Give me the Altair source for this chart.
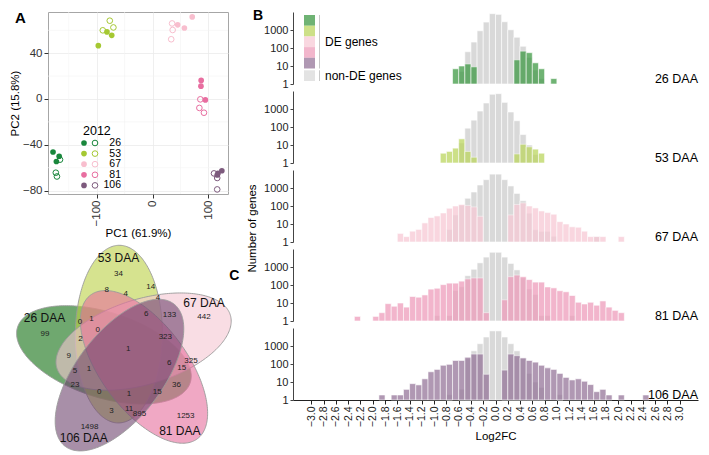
import altair as alt
import numpy as np
import pandas as pd

FONT = "Liberation Sans"

# ---------------- Panel A : PCA ----------------
stages = ["26", "53", "67", "81", "106"]
pca_colors = ["#19873c", "#a5c832", "#f8bece", "#e86ea0", "#7d5a7d"]
pc1_2012 = [[-178, -167, -172], [-97, -81.5, -73], [45, 57, 71], [87, 86.6, 94.5], [117, 124, 115.7]]
pc2_2012 = [[-46.3, -50, -54.6], [46.6, 58.6, 55.6], [64.8, 62, 71.7], [16.2, 11.2, -0.8], [-65, -62.7, -66.4]]
pc1_2013 = [[-165.5, -173, -171], [-76.5, -89, -70], [35, 36, 33.4], [85.5, 83.8, 92], [110, 115.7, 115.7]]
pc2_2013 = [[-53, -64.4, -67.7], [68.4, 60, 62.5], [66, 60.3, 52.2], [-0.3, -7.8, -12], [-65, -69, -79]]
minor_x = [-150, -50, 50]
minor_y = [-60, -20, 20, 60]
legend_title_A = "2012"

# ---------------- Panel B : Log2FC histograms ----------------
panel_names = ["26 DAA", "53 DAA", "67 DAA", "81 DAA", "106 DAA"]
cats = ["26", "53", "67", "81", "106", "non-DE"]
cat_colors = ["#3f9a45", "#bcd660", "#f7c9d5", "#ee9dbb", "#96769a", "#d9d9d9"]
legend_labels_B = ["DE genes", "non-DE genes"]
x_ticks = [-3.0, -2.8, -2.6, -2.4, -2.2, -2.0, -1.8, -1.6, -1.4, -1.2, -1.0, -0.8, -0.6, -0.4, -0.2,
           0.0, 0.2, 0.4, 0.6, 0.8, 1.0, 1.2, 1.4, 1.6, 1.8, 2.0, 2.2, 2.4, 2.6, 2.8, 3.0]

nonde_bins = [
    [-0.6, -0.5, -0.4, -0.3, -0.2, -0.1, 0.0, 0.1, 0.2, 0.3, 0.4, 0.5, 0.6, 0.7],
    [-0.6, -0.5, -0.4, -0.3, -0.2, -0.1, 0.0, 0.1, 0.2, 0.3, 0.4, 0.5, 0.6],
    [-0.8, -0.7, -0.6, -0.5, -0.4, -0.3, -0.2, -0.1, 0.0, 0.1, 0.2, 0.3, 0.4, 0.5, 0.6, 0.7, 0.8, 0.9, 1.6],
    [-1.0, -0.8, -0.7, -0.6, -0.5, -0.4, -0.3, -0.2, -0.1, 0.0, 0.1, 0.2, 0.3, 0.4, 0.5, 0.6, 0.7, 0.8, 1.2],
    [-0.8, -0.6, -0.5, -0.4, -0.3, -0.2, -0.1, 0.0, 0.1, 0.2, 0.3, 0.4, 0.5, 0.6, 0.7, 1.0],
]
nonde_counts = [
    [5, 62, 214, 905, 2760, 8100, 7400, 2880, 1025, 396, 125, 30, 6, 2],
    [13, 86, 240, 770, 2150, 6600, 7100, 2340, 680, 223, 38, 10, 3],
    [5, 32, 110, 270, 600, 1470, 2900, 5900, 5900, 2900, 1300, 500, 196, 40, 4.8, 3.9, 3.9, 2.1, 2],
    [2, 2, 50, 80, 330, 750, 1700, 3550, 6600, 6600, 3550, 1580, 690, 250, 60, 30, 2, 2, 2],
    [2, 4, 200, 540, 1340, 3160, 6900, 6900, 3160, 1340, 540, 200, 30, 10, 5, 2],
]
de_bins = [
    [-0.7, -0.6, -0.5, -0.4, 0.3, 0.4, 0.5, 0.6, 0.7, 0.9],
    [-0.9, -0.8, -0.7, -0.6, -0.5, -0.4, 0.3, 0.4, 0.5, 0.6, 0.7],
    [-1.6, -1.5, -1.4, -1.3, -1.2, -1.1, -1.0, -0.9, -0.8, -0.7, -0.6, -0.5, -0.4, -0.3,
     0.2, 0.3, 0.4, 0.5, 0.6, 0.7, 0.8, 0.9, 1.0, 1.1, 1.2, 1.3, 1.4, 1.5, 1.6, 1.7, 2.0],
    [-2.3, -2.0, -1.9, -1.8, -1.7, -1.6, -1.5, -1.4, -1.3, -1.2, -1.1, -1.0, -0.9, -0.8, -0.7, -0.6,
     -0.5, -0.4, -0.3, -0.2, 0.1, 0.2, 0.3, 0.4, 0.5, 0.6, 0.7, 0.8, 0.9, 1.0, 1.1, 1.2, 1.3, 1.4,
     1.5, 1.6, 1.7, 1.8, 1.9, 2.0],
    [-1.9, -1.7, -1.6, -1.5, -1.4, -1.3, -1.2, -1.1, -1.0, -0.9, -0.8, -0.7, -0.6, -0.5, -0.4, -0.3,
     -0.2, 0.1, 0.2, 0.3, 0.4, 0.5, 0.6, 0.7, 0.8, 0.9, 1.0, 1.1, 1.2, 1.3, 1.4, 1.5, 1.6, 1.7, 1.8,
     2.0, 2.4],
]
de_counts = [
    [7, 10, 13, 9, 22, 67, 55, 15, 7, 2],
    [3.5, 4.4, 6.7, 22, 4.4, 2.1, 3.2, 11, 7.9, 5.9, 3.5],
    [3, 2, 4, 5, 11.5, 23, 28, 41, 75, 100, 122, 108, 89, 27,
     32, 122, 149, 100, 78, 53, 43, 35, 13.5, 10, 7, 6.6, 4, 2, 2, 2, 2],
    [1.8, 1.8, 2.9, 9.2, 6.6, 10, 5.9, 23, 21, 28, 59, 66, 105, 127, 127, 164,
     218, 247, 247, 2.9, 15, 290, 357, 290, 200, 145, 145, 78, 69, 48, 42, 26, 11, 8.8,
     11, 7.5, 13, 5.9, 3.9, 2.9],
    [1.9, 1.9, 1.9, 3.9, 8.1, 6.9, 15, 37, 50, 85, 96, 157, 157, 237, 357, 357,
     27, 46, 357, 290, 218, 157, 127, 85, 61, 50, 30, 18, 13, 15, 11, 7.2, 2.9, 3.9, 1.9,
     1.9, 1.9],
]

# ---------------- Panel C : five-set Venn ----------------
venn_sets = ["26 DAA", "53 DAA", "67 DAA", "81 DAA", "106 DAA"]
venn_colors = ["#0f6e0f", "#bbd044", "#f5c6d2", "#e66e9d", "#6e446e"]
venn_dir = [165.6, 93.6, 21.6, -50.4, -122.4]     # direction of each ellipse's far end (deg)
venn_name_x = [36.7, 113.3, 201.7, 176.7, 77.3]
venn_name_y = [313.3, 250.0, 297.3, 433.3, 440.7]
venn_count_text = ["34", "8", "14", "442", "4", "4", "0", "1", "0", "6", "133", "99", "2", "323", "1",
                   "9", "6", "325", "15", "5", "1", "23", "36", "0", "1", "15", "3", "11", "895",
                   "1253", "1498"]
venn_count_x = [113.3, 101, 146.7, 201.7, 120.7, 154, 73.3, 85.3, 91.7, 142, 166, 37.3, 74, 161.7,
                123.3, 61.7, 165.7, 188.3, 178.7, 68.3, 82.7, 68.3, 173.3, 93.3, 124, 153.3, 106,
                124.3, 135, 182.7, 83.3]
venn_count_y = [266.7, 284, 280.7, 312.7, 288.3, 292, 317.7, 314.3, 325.7, 309.3, 310, 330, 336, 333.3,
                346.7, 354, 360.7, 359.3, 366.7, 369, 367.7, 384, 384, 391.7, 394.3, 391.3, 411.3,
                410, 415.3, 416.7, 428.3]
venn_center = (121.0, 352.0)
venn_far = 116.0
venn_a = 94.0
venn_b = 45.0
venn_shift = 6.0
venn_tilt = -4.0


def one(**kw):
    return pd.DataFrame({k: [v] for k, v in kw.items()})


# =====================================================================
# Panel A chart
rows12, rows13 = [], []
for s, xs, ys in zip(stages, pc1_2012, pc2_2012):
    for x, y in zip(xs, ys):
        rows12.append({"pc1": x, "pc2": y, "stage": s})
for s, xs, ys in zip(stages, pc1_2013, pc2_2013):
    for x, y in zip(xs, ys):
        rows13.append({"pc1": x, "pc2": y, "stage": s})
df12 = pd.DataFrame(rows12)
df13 = pd.DataFrame(rows13)

axA = dict(grid=True, gridColor="#ebebeb", gridWidth=0.8, domain=False, tickColor="#333",
           tickSize=4, labelFontSize=11.5, labelColor="#333", titleFontSize=11.5,
           titleFontWeight="normal", titleColor="#000", labelPadding=2, titlePadding=2,
           labelFlush=False)
xA = alt.X("pc1:Q", scale=alt.Scale(domain=[-187, 135], nice=False, zero=False),
           axis=alt.Axis(values=[-100, 0, 100], labelAngle=270, title="PC1 (61.9%)", **axA))
yA = alt.Y("pc2:Q", scale=alt.Scale(domain=[-83, 76], nice=False, zero=False),
           axis=alt.Axis(values=[-80, -40, 0, 40], title="PC2 (15.8%)", **axA))
stage_scale = alt.Scale(domain=stages, range=pca_colors)

gx = alt.Chart(pd.DataFrame({"pc1": minor_x})).mark_rule(color="#f3f3f3", strokeWidth=0.6).encode(x=xA)
gy = alt.Chart(pd.DataFrame({"pc2": minor_y})).mark_rule(color="#f3f3f3", strokeWidth=0.6).encode(y=yA)
open_pts = alt.Chart(df13).mark_point(filled=False, size=32, strokeWidth=1, opacity=1).encode(
    x=xA, y=yA, color=alt.Color("stage:N", scale=stage_scale, legend=None))
fill_pts = alt.Chart(df12).mark_circle(size=32, opacity=1).encode(
    x=xA, y=yA, color=alt.Color("stage:N", scale=stage_scale, legend=None))
layersA = [gx, gy, open_pts, fill_pts]
# panel letter
layersA.append(alt.Chart(one(t="A")).mark_text(
    fontWeight="bold", fontSize=15, align="left", baseline="top", color="#000").encode(
    x=alt.value(-33), y=alt.value(-1), text="t:N"))
# legend drawn with marks (filled = 2012, open = other year)
layersA.append(alt.Chart(one(t=legend_title_A)).mark_text(
    fontSize=12.5, align="left", baseline="top", color="#000").encode(
    x=alt.value(35), y=alt.value(112.5), text="t:N"))
for i, (s, c) in enumerate(zip(stages, pca_colors)):
    yy = 131 + 10.6 * i
    d = one(t=s)
    layersA.append(alt.Chart(d).mark_circle(size=32, opacity=1, color=c).encode(
        x=alt.value(36), y=alt.value(yy)))
    layersA.append(alt.Chart(d).mark_point(size=32, filled=False, strokeWidth=1, opacity=1, color=c).encode(
        x=alt.value(47), y=alt.value(yy)))
    layersA.append(alt.Chart(d).mark_text(fontSize=10.5, align="right", baseline="middle", color="#000").encode(
        x=alt.value(73), y=alt.value(yy), text="t:N"))
chartA = alt.layer(*layersA).properties(width=180, height=182, view=alt.ViewBackground(stroke="#a6a6a6"))

# =====================================================================
# Panel C chart (ellipses)
rows = []
cx0, cy0 = venn_center
for name, ang in zip(venn_sets, venn_dir):
    th = np.radians(ang)
    u = np.array([np.cos(th), -np.sin(th)])
    v = np.array([np.cos(th + np.pi / 2), -np.sin(th + np.pi / 2)])
    c = np.array([cx0, cy0]) + (venn_far - venn_a) * u + venn_shift * v
    psi = -(th + np.radians(venn_tilt))  # rotation in screen coordinates
    a2, b2 = venn_a ** 2, venn_b ** 2
    A = np.sin(psi) ** 2 / a2 + np.cos(psi) ** 2 / b2
    xmax = np.sqrt(a2 * np.cos(psi) ** 2 + b2 * np.sin(psi) ** 2)
    for s in np.linspace(np.pi, 0, 121):
        dx = xmax * np.cos(s)
        B = 2 * dx * np.sin(psi) * np.cos(psi) * (1 / a2 - 1 / b2)
        Cq = dx ** 2 * (np.cos(psi) ** 2 / a2 + np.sin(psi) ** 2 / b2) - 1
        disc = max(B * B - 4 * A * Cq, 0.0)
        r1 = (-B - np.sqrt(disc)) / (2 * A)
        r2 = (-B + np.sqrt(disc)) / (2 * A)
        rows.append({"set": name, "x": c[0] + dx, "ya": c[1] + r1, "yb": c[1] + r2})
df_ell = pd.DataFrame(rows)

# the Venn panel shares its column's left edge with panel A's axis area
xC = alt.X("x:Q", scale=alt.Scale(domain=[0, 240], range=[-39, 193], nice=False, zero=False), axis=None)
yC = alt.Y("ya:Q", scale=alt.Scale(domain=[234, 452], nice=False, zero=False, reverse=True), axis=None)
ell = alt.Chart(df_ell).mark_area(fillOpacity=0.6, stroke="#9a9a9a", strokeWidth=1,
                                  strokeOpacity=0.9, interpolate="linear").encode(
    x=xC, y=yC, y2="yb:Q",
    color=alt.Color("set:N", scale=alt.Scale(domain=venn_sets, range=venn_colors), legend=None),
    detail="set:N")
df_names = pd.DataFrame({"x": venn_name_x, "ya": venn_name_y, "t": venn_sets})
df_counts = pd.DataFrame({"x": venn_count_x, "ya": venn_count_y, "t": venn_count_text})
names = alt.Chart(df_names).mark_text(fontSize=12, color="#111").encode(x=xC, y=yC, text="t:N")
counts = alt.Chart(df_counts).mark_text(fontSize=8, color="#222").encode(x=xC, y=yC, text="t:N")
letterC = alt.Chart(one(x=233, ya=269, t="C")).mark_text(
    fontSize=14, fontWeight="bold", color="#000").encode(x=xC, y=yC, text="t:N")
chartC = alt.layer(ell, names, counts, letterC).properties(width=193, height=206)

# =====================================================================
# Panel B charts
xsB = alt.Scale(domain=[-3.3, 3.3], nice=False, zero=False)
ysB = alt.Scale(type="log", domain=[1, 10000], nice=False)
cscale = alt.Scale(domain=cats, range=cat_colors)
xaxisB = alt.Axis(values=x_ticks, format=".1f", labelAngle=270, title="Log2FC", labelFontSize=10.5,
                  labelColor="#222", tickSize=4, tickColor="#222", domainColor="#222", grid=False,
                  labelPadding=2, labelFlush=False, labelOverlap=False, labelBound=False,
                  titleFontSize=11.5, titleFontWeight="normal", titleColor="#000", titlePadding=4)

panels = []
for i, name in enumerate(panel_names):
    dg = pd.DataFrame({"b0": nonde_bins[i], "n": nonde_counts[i]})
    dg["b1"] = dg["b0"] + 0.1
    dg["cat"] = "non-DE"
    dd = pd.DataFrame({"b0": de_bins[i], "n": de_counts[i]})
    dd["b1"] = dd["b0"] + 0.1
    dd["cat"] = stages[i]
    xax = xaxisB if i == 4 else None
    xenc = alt.X("b0:Q", scale=xsB, axis=xax)
    if i == 2:
        yaxis = alt.Axis(values=[1, 10, 100, 1000], format="d", grid=False, labelFontSize=11,
                         labelColor="#222", tickSize=3, tickColor="#444", domainColor="#444",
                         labelPadding=2, title="Number of genes", titleFontSize=11.5,
                         titleFontWeight="normal", titleColor="#000", titlePadding=6, titleY=58)
    else:
        yaxis = alt.Axis(values=[1, 10, 100, 1000], format="d", grid=False, labelFontSize=11,
                         labelColor="#222", tickSize=3, tickColor="#444", domainColor="#444",
                         labelPadding=2, title=None)
    yenc = alt.Y("n:Q", scale=ysB, axis=yaxis)
    cenc = alt.Color("cat:N", scale=cscale, legend=None)
    grey = alt.Chart(dg).mark_rect(stroke="white", strokeWidth=0.6).encode(
        x=xenc, x2="b1:Q", y=yenc, y2=alt.datum(1), color=cenc)
    de = alt.Chart(dd).mark_rect(stroke="white", strokeWidth=0.6, opacity=0.75).encode(
        x=xenc, x2="b1:Q", y=yenc, y2=alt.datum(1), color=cenc)
    lab = alt.Chart(one(t=name)).mark_text(
        align="right", baseline="middle", fontSize=12.5, color="#000").encode(
        x=alt.XDatum(3.3, scale=xsB, axis=xax), y=alt.YDatum(1.8, scale=ysB, axis=yaxis), text="t:N")
    layers = [grey, de, lab]
    if i == 0:
        layers.append(alt.Chart(one(t="B")).mark_text(
            fontWeight="bold", fontSize=14, align="left", baseline="top", color="#000").encode(
            x=alt.value(-40), y=alt.value(-3), text="t:N"))
        # legend drawn with marks: colour keys, separator lines and labels
        for j, (cat, col) in enumerate(zip(cats, cat_colors)):
            top = 3 + 10.7 * j + (1.8 if j == 5 else 0)
            layers.append(alt.Chart(one(t=cat)).mark_rect(color=col, opacity=0.75).encode(
                x=alt.value(11), x2=alt.value(22), y=alt.value(top), y2=alt.value(top + 10.7)))
        layers.append(alt.Chart(one(t="DE")).mark_rule(color="#c8c8c8", strokeWidth=1).encode(
            x=alt.value(26.5), y=alt.value(3), y2=alt.value(56.5)))
        layers.append(alt.Chart(one(t="nonDE")).mark_rule(color="#c8c8c8", strokeWidth=1).encode(
            x=alt.value(26.5), y=alt.value(58.3), y2=alt.value(69)))
        layers.append(alt.Chart(one(t=legend_labels_B[0])).mark_text(
            fontSize=12, align="left", baseline="middle", color="#000").encode(
            x=alt.value(32), y=alt.value(30), text="t:N"))
        layers.append(alt.Chart(one(t=legend_labels_B[1])).mark_text(
            fontSize=12, align="left", baseline="middle", color="#000").encode(
            x=alt.value(32), y=alt.value(64), text="t:N"))
    panels.append(alt.layer(*layers).properties(width=405, height=72))

chartB = alt.vconcat(*panels, spacing=7, bounds="flush")

left = alt.vconcat(chartA, chartC, spacing=2).resolve_scale(color="independent")
chart = alt.hconcat(left, chartB, spacing=4).resolve_scale(color="independent").properties(
    padding=0).configure(font=FONT).configure_view(stroke="transparent")

chart.save("out.html", embed_options={"renderer": "svg", "actions": False})
